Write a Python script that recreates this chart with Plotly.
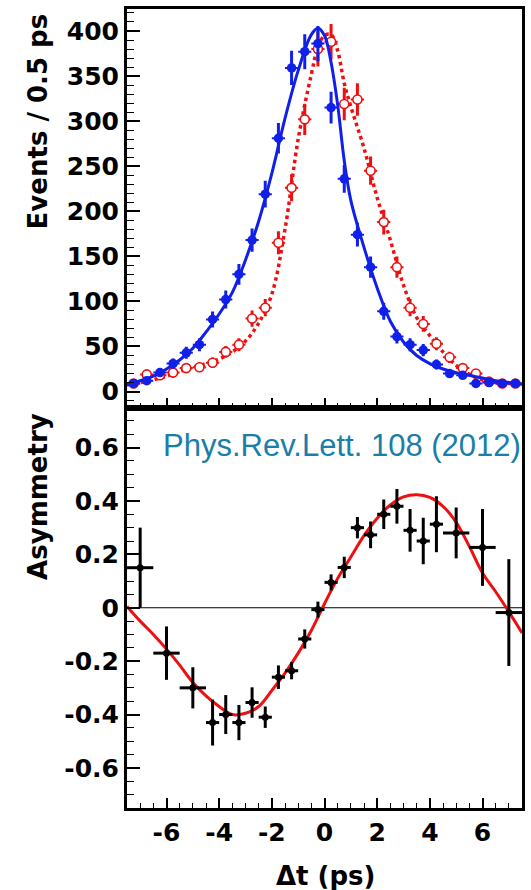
import plotly.graph_objects as go
from plotly.subplots import make_subplots

# ---------------- data ----------------
dt_bins = [-7.25, -6.75, -6.25, -5.75, -5.25, -4.75, -4.25, -3.75, -3.25, -2.75,
           -2.25, -1.75, -1.25, -0.75, -0.25, 0.25, 0.75, 1.25, 1.75, 2.25,
           2.75, 3.25, 3.75, 4.25, 4.75, 5.25, 5.75, 6.25, 6.75, 7.25]
dt_halfwidth = [0.25] * 30

blue_counts = [9, 12, 21, 31, 43, 52, 80, 102, 130, 168,
               219, 281, 359, 377, 386, 315, 236, 174, 138, 89,
               61, 52, 46, 30, 20, 18, 9, 10, 9, 9]
blue_err = [3, 3.5, 4.6, 5.6, 6.6, 7.2, 8.9, 10, 11.4, 13,
            14.8, 16.8, 19, 19.4, 19.6, 17.7, 15.4, 13.2, 11.7, 9.4,
            7.8, 7.2, 6.8, 5.5, 4.5, 4.2, 3, 3.2, 3, 3]

red_counts = [9, 19, 18, 21, 26, 27, 32, 44, 52, 81,
              93, 165, 226, 302, 380, 388, 319, 324, 245, 188,
              138, 93, 75, 53, 38, 26, 20, 11, 9, 9]
red_err = [3, 4.4, 4.2, 4.6, 5.1, 5.2, 5.7, 6.6, 7.2, 9,
           9.6, 12.8, 15, 17.4, 19.5, 19.7, 17.9, 18, 15.7, 13.7,
           11.7, 9.6, 8.7, 7.3, 6.2, 5.1, 4.5, 3.3, 3, 3]

curve_t = [-7.5, -7, -6.5, -6, -5.5, -5, -4.5, -4, -3.5, -3, -2.5, -2, -1.5, -1,
           -0.5, -0.25, 0, 0.25, 0.5, 0.75, 1, 1.5, 2, 2.5, 3, 3.5, 4, 4.5, 5,
           5.5, 6, 6.5, 7, 7.5]
blue_curve = [7, 12, 17, 25, 35, 48, 66, 86, 110, 146, 189, 242, 303, 356,
              396, 403, 395, 365, 318, 256, 212, 160, 115, 78, 55, 40, 31, 25, 21,
              18, 15, 12, 10, 8]
red_curve = [8, 10, 13, 17, 22, 27, 31, 36, 44, 56, 76, 108, 180, 280,
             352, 382, 395, 396, 378, 342, 316, 270, 215, 168, 118, 82, 62, 44, 29,
             19, 13, 10, 9, 8]

asym_t = [-7, -6, -5, -4.25, -3.75, -3.25, -2.75, -2.25, -1.75, -1.25, -0.75, -0.25,
          0.25, 0.75, 1.25, 1.75, 2.25, 2.75, 3.25, 3.75, 4.25, 5, 6, 7]
asym_halfwidth = [0.5, 0.5, 0.5, 0.25, 0.25, 0.25, 0.25, 0.25, 0.25, 0.25, 0.25, 0.25,
                  0.25, 0.25, 0.25, 0.25, 0.25, 0.25, 0.25, 0.25, 0.25, 0.5, 0.5, 0.5]
asym_val = [0.15, -0.17, -0.30, -0.43, -0.40, -0.43, -0.355, -0.41, -0.26, -0.236, -0.117, -0.007,
            0.095, 0.151, 0.30, 0.273, 0.35, 0.38, 0.29, 0.25, 0.313, 0.28, 0.226, -0.018]
asym_err = [0.15, 0.10, 0.077, 0.086, 0.073, 0.066, 0.057, 0.04, 0.044, 0.032, 0.036, 0.03,
            0.03, 0.04, 0.04, 0.05, 0.055, 0.065, 0.08, 0.087, 0.105, 0.095, 0.144, 0.2]

asym_curve_t = [-7.5, -7, -6.5, -6, -5.5, -5, -4.5, -4, -3.5, -3, -2.5, -2, -1.5, -1,
                -0.5, 0, 0.5, 1, 1.5, 2, 2.5, 3, 3.5, 4, 4.5, 5, 5.5, 6, 6.5, 7, 7.5]
asym_curve = [0.005, -0.05, -0.10, -0.155, -0.215, -0.28, -0.33, -0.37, -0.40, -0.395,
              -0.37, -0.31, -0.245, -0.17, -0.085, 0.015, 0.11, 0.19, 0.27, 0.335,
              0.385, 0.415, 0.423, 0.413, 0.38, 0.32, 0.23, 0.13, 0.06, -0.015, -0.094]

x_tickvals = [-6, -4, -2, 0, 2, 4, 6]
x_ticktext = ["-6", "-4", "-2", "0", "2", "4", "6"]
top_tickvals = [0, 50, 100, 150, 200, 250, 300, 350, 400]
top_ticktext = ["0", "50", "100", "150", "200", "250", "300", "350", "400"]
bot_tickvals = [-0.6, -0.4, -0.2, 0, 0.2, 0.4, 0.6]
bot_ticktext = ["-0.6", "-0.4", "-0.2", "0", "0.2", "0.4", "0.6"]

# ---------------- style ----------------
BLUE = "#1020e8"
RED = "#ee1010"
TICKFONT = dict(family="DejaVu Sans", size=25, color="black", weight="bold")
TITLEFONT = dict(family="DejaVu Sans", size=26, color="black", weight="bold")

fig = make_subplots(rows=2, cols=1, shared_xaxes=True, vertical_spacing=0)

# top panel
fig.add_trace(go.Scatter(x=curve_t, y=red_curve, mode="lines", line_shape="spline",
                         line=dict(color=RED, width=3.5, dash="dot"), hoverinfo="skip"), row=1, col=1)
fig.add_trace(go.Scatter(x=dt_bins, y=red_counts, mode="markers",
                         marker=dict(symbol="circle", size=9, color="white", line=dict(width=1.6, color=RED)),
                         error_y=dict(type="data", array=red_err, color=RED, thickness=3, width=0),
                         error_x=dict(type="data", array=dt_halfwidth, color=RED, thickness=2, width=0)),
              row=1, col=1)
fig.add_trace(go.Scatter(x=curve_t, y=blue_curve, mode="lines", line_shape="spline",
                         line=dict(color=BLUE, width=3), hoverinfo="skip"), row=1, col=1)
fig.add_trace(go.Scatter(x=dt_bins, y=blue_counts, mode="markers",
                         marker=dict(symbol="circle", size=9.5, color=BLUE),
                         error_y=dict(type="data", array=blue_err, color=BLUE, thickness=3, width=0),
                         error_x=dict(type="data", array=dt_halfwidth, color=BLUE, thickness=2, width=0)),
              row=1, col=1)

# bottom panel
fig.add_trace(go.Scatter(x=[-7.5, 7.5], y=[0, 0], mode="lines",
                         line=dict(color="black", width=1), hoverinfo="skip"), row=2, col=1)
fig.add_trace(go.Scatter(x=asym_curve_t, y=asym_curve, mode="lines", line_shape="spline",
                         line=dict(color=RED, width=3), hoverinfo="skip"), row=2, col=1)
fig.add_trace(go.Scatter(x=asym_t, y=asym_val, mode="markers",
                         marker=dict(symbol="circle", size=7, color="black"),
                         error_y=dict(type="data", array=asym_err, color="black", thickness=3, width=0),
                         error_x=dict(type="data", array=asym_halfwidth, color="black", thickness=3, width=0)),
              row=2, col=1)

axis_common = dict(showline=True, linecolor="black", linewidth=3, mirror=True,
                   ticks="inside", tickcolor="black", showgrid=False, zeroline=False)

fig.update_xaxes(range=[-7.5, 7.5], tickvals=x_tickvals, ticktext=x_ticktext,
                 ticklen=10, tickwidth=1.5,
                 minor=dict(dtick=0.5, ticks="inside", ticklen=5, tickcolor="black", tickwidth=1.2),
                 **axis_common)
fig.update_xaxes(showticklabels=False, row=1, col=1)
fig.update_xaxes(showticklabels=True, tickfont=TICKFONT, row=2, col=1)

fig.update_yaxes(range=[-17.7, 424.4], tickvals=top_tickvals, ticktext=top_ticktext,
                 ticklen=13, tickwidth=1.5, tickfont=TICKFONT,
                 minor=dict(dtick=10, ticks="inside", ticklen=7, tickcolor="black", tickwidth=1.2),
                 domain=[0.50125, 1.0], row=1, col=1, **axis_common)
fig.update_yaxes(range=[-0.75, 0.75], tickvals=bot_tickvals, ticktext=bot_ticktext,
                 ticklen=13, tickwidth=1.5, tickfont=TICKFONT,
                 minor=dict(tick0=0, dtick=0.05, ticks="inside", ticklen=7, tickcolor="black", tickwidth=1.2),
                 domain=[0.0, 0.50125], row=2, col=1, **axis_common)

fig.add_annotation(text="Events / 0.5 ps", xref="paper", yref="paper", x=-0.226, y=0.859,
                   textangle=-90, showarrow=False, font=TITLEFONT, xanchor="center", yanchor="middle")
fig.add_annotation(text="Asymmetry", xref="paper", yref="paper", x=-0.224, y=0.39,
                   textangle=-90, showarrow=False, font=TITLEFONT, xanchor="center", yanchor="middle")
fig.add_annotation(text="\u0394t (ps)", xref="paper", yref="paper", x=0.5025, y=-0.085,
                   showarrow=False, font=TITLEFONT, xanchor="center", yanchor="middle")
fig.add_annotation(text="Phys.Rev.Lett. 108 (2012)", xref="paper", yref="paper", x=0.087, y=0.454,
                   showarrow=False, xanchor="left", yanchor="middle",
                   font=dict(family="Liberation Sans", size=31, color="#1a7ea8"))

fig.update_layout(width=531, height=890, margin=dict(l=127, r=6, t=8, b=82),
                  plot_bgcolor="white", paper_bgcolor="white", showlegend=False)

fig.write_html("out.html")
